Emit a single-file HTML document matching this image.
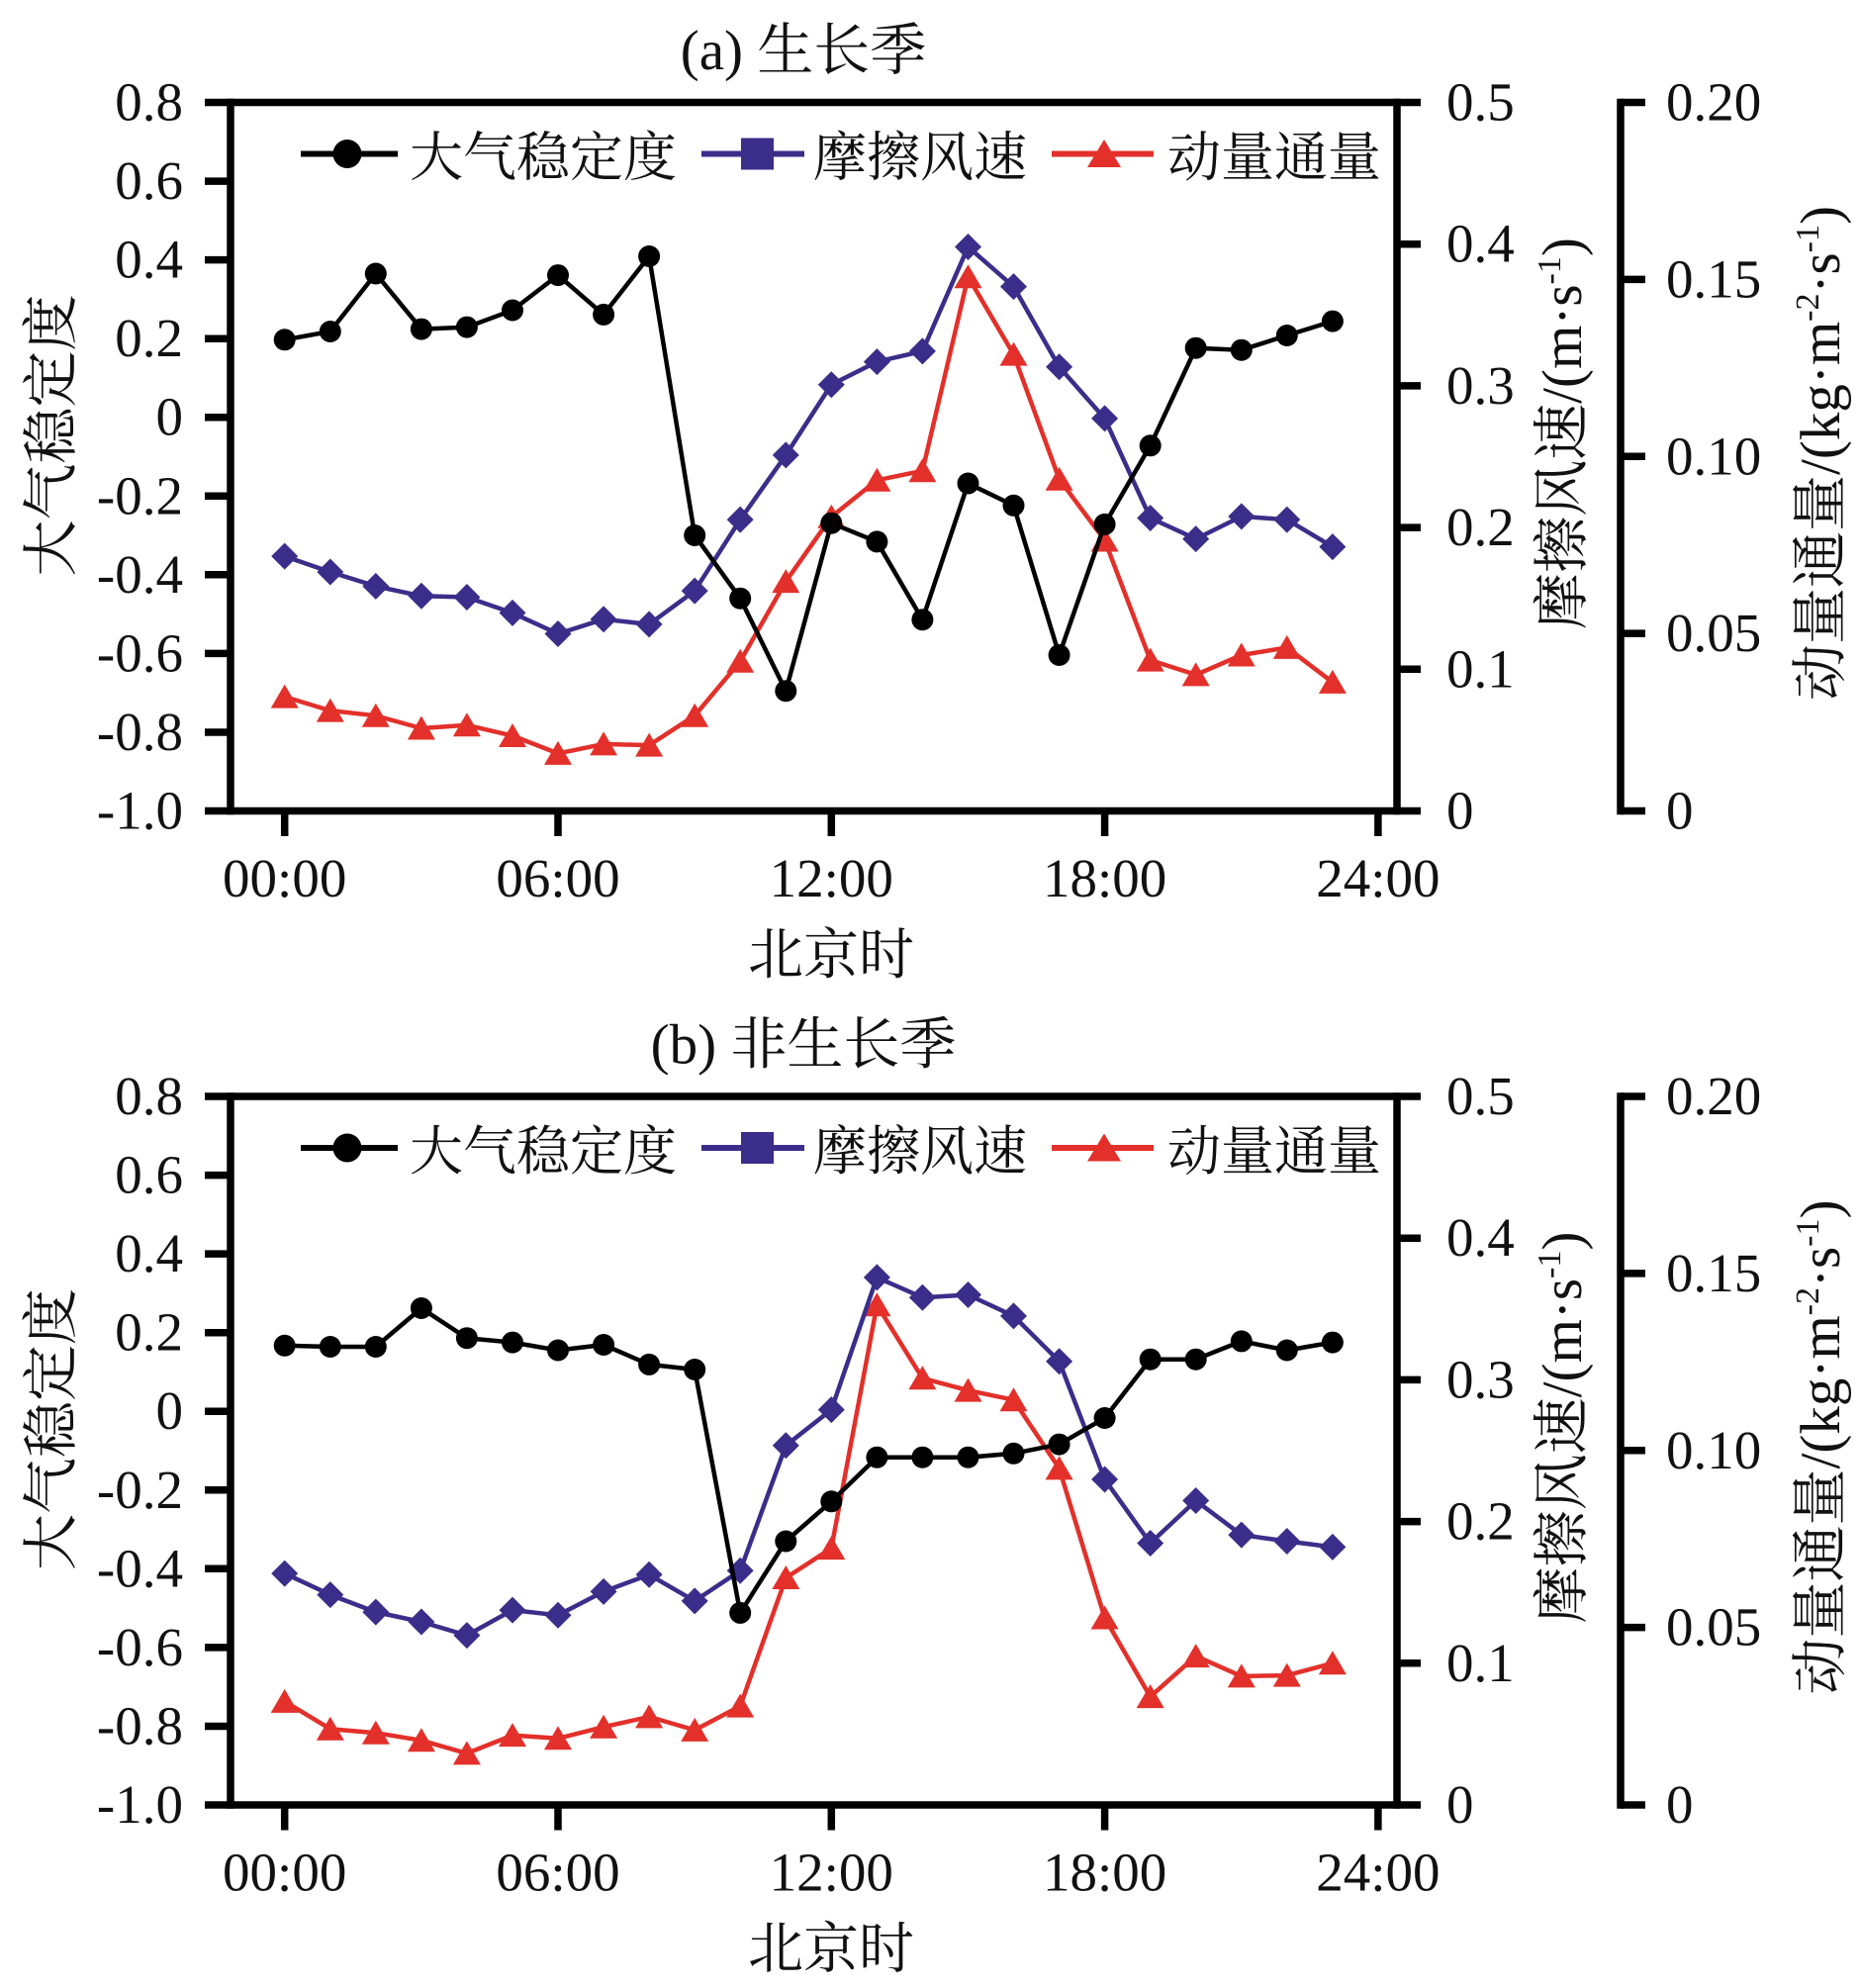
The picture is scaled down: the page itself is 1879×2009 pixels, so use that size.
<!DOCTYPE html>
<html>
<head>
<meta charset="utf-8">
<style>
html,body{margin:0;padding:0;background:#fff;}
svg{display:block;}
text{font-family:"Liberation Serif","Noto Serif CJK SC",serif;fill:#111;}
</style>
</head>
<body>
<svg width="1879" height="2009" viewBox="0 0 1879 2009" xmlns="http://www.w3.org/2000/svg">
<defs>
  <marker id="mc" markerWidth="30" markerHeight="30" refX="15" refY="15" markerUnits="userSpaceOnUse">
    <circle cx="15" cy="15" r="11" fill="#000"/>
  </marker>
  <marker id="md" markerWidth="32" markerHeight="32" refX="16" refY="16" markerUnits="userSpaceOnUse">
    <path d="M16,2.5 L29.5,16 L16,29.5 L2.5,16 Z" fill="#3a2e8a"/>
  </marker>
  <marker id="mt" markerWidth="32" markerHeight="32" refX="16" refY="16" markerUnits="userSpaceOnUse">
    <path d="M16,3.5 L30,27.5 L2,27.5 Z" fill="#e3302a"/>
  </marker>
</defs>

<rect x="0" y="0" width="1879" height="2009" fill="#fff"/>

<!-- ================= PANEL A ================= -->
<g id="panelA">
  <text x="812" y="70" font-size="57" text-anchor="middle">(a) 生长季</text>

  <!-- spines -->
  <g stroke="#000" stroke-width="7.5" fill="none">
    <line x1="207" y1="103.5" x2="1436" y2="103.5"/>
    <line x1="207" y1="819.5" x2="1436" y2="819.5"/>
    <line x1="233" y1="99.8" x2="233" y2="823.2"/>
    <line x1="1412" y1="99.8" x2="1412" y2="823.2"/>
    <!-- left ticks -->
    <line x1="207" y1="183.1" x2="233" y2="183.1"/>
    <line x1="207" y1="262.6" x2="233" y2="262.6"/>
    <line x1="207" y1="342.2" x2="233" y2="342.2"/>
    <line x1="207" y1="421.7" x2="233" y2="421.7"/>
    <line x1="207" y1="501.3" x2="233" y2="501.3"/>
    <line x1="207" y1="580.8" x2="233" y2="580.8"/>
    <line x1="207" y1="660.4" x2="233" y2="660.4"/>
    <line x1="207" y1="740.0" x2="233" y2="740.0"/>
    <!-- right ticks -->
    <line x1="1412" y1="246.7" x2="1436" y2="246.7"/>
    <line x1="1412" y1="389.9" x2="1436" y2="389.9"/>
    <line x1="1412" y1="533.1" x2="1436" y2="533.1"/>
    <line x1="1412" y1="676.3" x2="1436" y2="676.3"/>
    <!-- bottom ticks -->
    <line x1="287.7" y1="819.5" x2="287.7" y2="845"/>
    <line x1="564.0" y1="819.5" x2="564.0" y2="845"/>
    <line x1="840.3" y1="819.5" x2="840.3" y2="845"/>
    <line x1="1116.6" y1="819.5" x2="1116.6" y2="845"/>
    <line x1="1392.9" y1="819.5" x2="1392.9" y2="845"/>
    <!-- third axis -->
    <line x1="1638" y1="99.8" x2="1638" y2="823.2"/>
    <line x1="1638" y1="103.5" x2="1663" y2="103.5"/>
    <line x1="1638" y1="282.4" x2="1663" y2="282.4"/>
    <line x1="1638" y1="461.3" x2="1663" y2="461.3"/>
    <line x1="1638" y1="640.1" x2="1663" y2="640.1"/>
    <line x1="1638" y1="819.5" x2="1663" y2="819.5"/>
  </g>

  <!-- left tick labels -->
  <g font-size="55" text-anchor="end">
    <text x="185" y="121.5">0.8</text>
    <text x="185" y="201.1">0.6</text>
    <text x="185" y="280.6">0.4</text>
    <text x="185" y="360.2">0.2</text>
    <text x="185" y="439.7">0</text>
    <text x="185" y="519.3">-0.2</text>
    <text x="185" y="598.8">-0.4</text>
    <text x="185" y="678.4">-0.6</text>
    <text x="185" y="758.0">-0.8</text>
    <text x="185" y="837.5">-1.0</text>
  </g>
  <!-- right tick labels -->
  <g font-size="55" text-anchor="start">
    <text x="1462" y="121.5">0.5</text>
    <text x="1462" y="264.7">0.4</text>
    <text x="1462" y="407.9">0.3</text>
    <text x="1462" y="551.1">0.2</text>
    <text x="1462" y="694.3">0.1</text>
    <text x="1462" y="837.5">0</text>
    <text x="1684" y="121.5">0.20</text>
    <text x="1684" y="300.4">0.15</text>
    <text x="1684" y="479.3">0.10</text>
    <text x="1684" y="658.1">0.05</text>
    <text x="1684" y="837.5">0</text>
  </g>
  <!-- x tick labels -->
  <g font-size="55" text-anchor="middle">
    <text x="287.7" y="906">00:00</text>
    <text x="564.0" y="906">06:00</text>
    <text x="840.3" y="906">12:00</text>
    <text x="1116.6" y="906">18:00</text>
    <text x="1392.9" y="906">24:00</text>
  </g>
  <text x="840" y="984" font-size="56" text-anchor="middle">北京时</text>

  <text transform="translate(50,440) rotate(-90)" y="21" font-size="57" text-anchor="middle">大气稳定度</text>
  <text transform="translate(1577,438) rotate(-90)" y="21" font-size="57" text-anchor="middle">摩擦风速/(m·s<tspan font-size="34" dy="-21">-1</tspan><tspan dy="21">)</tspan></text>
  <text transform="translate(1838,458) rotate(-90)" y="21" font-size="57" text-anchor="middle">动量通量/(kg·m<tspan font-size="34" dy="-21">-2</tspan><tspan dy="21">·s</tspan><tspan font-size="34" dy="-21">-1</tspan><tspan dy="21">)</tspan></text>

  <!-- legend -->
  <line x1="304" y1="155.5" x2="402" y2="155.5" stroke="#000" stroke-width="6"/>
  <circle cx="351" cy="155.5" r="14.5" fill="#000"/>
  <text x="414" y="177.5" font-size="54">大气稳定度</text>
  <line x1="709" y1="155.5" x2="813" y2="155.5" stroke="#3a2e8a" stroke-width="6"/>
  <rect x="749" y="139.5" width="33" height="32" fill="#3a2e8a"/>
  <text x="822" y="177.5" font-size="54">摩擦风速</text>
  <line x1="1063" y1="155.5" x2="1166" y2="155.5" stroke="#e3302a" stroke-width="6"/>
  <path d="M1116,141 L1133,169 L1099,169 Z" fill="#e3302a"/>
  <text x="1180" y="177.5" font-size="54">动量通量</text>

  <!-- series -->
  <polyline fill="none" stroke="#e3302a" stroke-width="4.5" stroke-linejoin="round" marker-start="url(#mt)" marker-mid="url(#mt)" marker-end="url(#mt)"
    points="287.7,704.1 333.8,718.1 379.8,723.2 425.9,736.0 471.9,732.8 518.0,743.5 564.0,761.4 610.1,751.9 656.1,753.1 702.2,723.2 748.2,668.3 794.3,587.6 840.3,522.3 886.4,485.3 932.4,475.8 978.5,279.7 1024.5,358.1 1070.6,484.2 1116.6,546.0 1162.7,667.1 1208.7,681.9 1254.8,662.0 1300.8,654.4 1346.9,689.4"/>
  <polyline fill="none" stroke="#3a2e8a" stroke-width="4.5" stroke-linejoin="round" marker-start="url(#md)" marker-mid="url(#md)" marker-end="url(#md)"
    points="287.7,562.1 333.8,578.0 379.8,592.4 425.9,602.3 471.9,603.5 518.0,619.4 564.0,640.5 610.1,625.8 656.1,630.9 702.2,597.1 748.2,525.1 794.3,459.9 840.3,388.7 886.4,365.6 932.4,354.9 978.5,249.5 1024.5,289.6 1070.6,370.8 1116.6,422.9 1162.7,523.5 1208.7,544.6 1254.8,521.9 1300.8,525.1 1346.9,552.6"/>
  <polyline fill="none" stroke="#000" stroke-width="4.5" stroke-linejoin="round" marker-start="url(#mc)" marker-mid="url(#mc)" marker-end="url(#mc)"
    points="287.7,343.3 333.8,335.0 379.8,276.5 425.9,332.6 471.9,330.6 518.0,313.5 564.0,278.1 610.1,317.9 656.1,259.0 702.2,541.0 748.2,604.7 794.3,698.2 840.3,528.7 886.4,547.4 932.4,626.2 978.5,488.5 1024.5,510.8 1070.6,662.0 1116.6,529.9 1162.7,450.3 1208.7,351.7 1254.8,353.7 1300.8,339.0 1346.9,324.6"/>
</g>

<!-- ================= PANEL B ================= -->
<g id="panelB">
  <text x="812" y="1074.5" font-size="57" text-anchor="middle">(b) 非生长季</text>

  <g stroke="#000" stroke-width="7.5" fill="none">
    <line x1="207" y1="1108" x2="1436" y2="1108"/>
    <line x1="207" y1="1824" x2="1436" y2="1824"/>
    <line x1="233" y1="1104.3" x2="233" y2="1827.7"/>
    <line x1="1412" y1="1104.3" x2="1412" y2="1827.7"/>
    <line x1="207" y1="1187.6" x2="233" y2="1187.6"/>
    <line x1="207" y1="1267.1" x2="233" y2="1267.1"/>
    <line x1="207" y1="1346.7" x2="233" y2="1346.7"/>
    <line x1="207" y1="1426.2" x2="233" y2="1426.2"/>
    <line x1="207" y1="1505.8" x2="233" y2="1505.8"/>
    <line x1="207" y1="1585.3" x2="233" y2="1585.3"/>
    <line x1="207" y1="1664.9" x2="233" y2="1664.9"/>
    <line x1="207" y1="1744.5" x2="233" y2="1744.5"/>
    <line x1="1412" y1="1251.2" x2="1436" y2="1251.2"/>
    <line x1="1412" y1="1394.4" x2="1436" y2="1394.4"/>
    <line x1="1412" y1="1537.6" x2="1436" y2="1537.6"/>
    <line x1="1412" y1="1680.8" x2="1436" y2="1680.8"/>
    <line x1="287.7" y1="1824" x2="287.7" y2="1849.5"/>
    <line x1="564.0" y1="1824" x2="564.0" y2="1849.5"/>
    <line x1="840.3" y1="1824" x2="840.3" y2="1849.5"/>
    <line x1="1116.6" y1="1824" x2="1116.6" y2="1849.5"/>
    <line x1="1392.9" y1="1824" x2="1392.9" y2="1849.5"/>
    <line x1="1638" y1="1104.3" x2="1638" y2="1827.7"/>
    <line x1="1638" y1="1108" x2="1663" y2="1108"/>
    <line x1="1638" y1="1286.9" x2="1663" y2="1286.9"/>
    <line x1="1638" y1="1465.8" x2="1663" y2="1465.8"/>
    <line x1="1638" y1="1644.6" x2="1663" y2="1644.6"/>
    <line x1="1638" y1="1824" x2="1663" y2="1824"/>
  </g>

  <g font-size="55" text-anchor="end">
    <text x="185" y="1126">0.8</text>
    <text x="185" y="1205.6">0.6</text>
    <text x="185" y="1285.1">0.4</text>
    <text x="185" y="1364.7">0.2</text>
    <text x="185" y="1444.2">0</text>
    <text x="185" y="1523.8">-0.2</text>
    <text x="185" y="1603.3">-0.4</text>
    <text x="185" y="1682.9">-0.6</text>
    <text x="185" y="1762.5">-0.8</text>
    <text x="185" y="1842">-1.0</text>
  </g>
  <g font-size="55" text-anchor="start">
    <text x="1462" y="1126">0.5</text>
    <text x="1462" y="1269.2">0.4</text>
    <text x="1462" y="1412.4">0.3</text>
    <text x="1462" y="1555.6">0.2</text>
    <text x="1462" y="1698.8">0.1</text>
    <text x="1462" y="1842">0</text>
    <text x="1684" y="1126">0.20</text>
    <text x="1684" y="1304.9">0.15</text>
    <text x="1684" y="1483.8">0.10</text>
    <text x="1684" y="1662.6">0.05</text>
    <text x="1684" y="1842">0</text>
  </g>
  <g font-size="55" text-anchor="middle">
    <text x="287.7" y="1910.5">00:00</text>
    <text x="564.0" y="1910.5">06:00</text>
    <text x="840.3" y="1910.5">12:00</text>
    <text x="1116.6" y="1910.5">18:00</text>
    <text x="1392.9" y="1910.5">24:00</text>
  </g>
  <text x="840" y="1988.5" font-size="56" text-anchor="middle">北京时</text>

  <text transform="translate(50,1444.5) rotate(-90)" y="21" font-size="57" text-anchor="middle">大气稳定度</text>
  <text transform="translate(1577,1442.5) rotate(-90)" y="21" font-size="57" text-anchor="middle">摩擦风速/(m·s<tspan font-size="34" dy="-21">-1</tspan><tspan dy="21">)</tspan></text>
  <text transform="translate(1838,1462.5) rotate(-90)" y="21" font-size="57" text-anchor="middle">动量通量/(kg·m<tspan font-size="34" dy="-21">-2</tspan><tspan dy="21">·s</tspan><tspan font-size="34" dy="-21">-1</tspan><tspan dy="21">)</tspan></text>

  <line x1="304" y1="1160" x2="402" y2="1160" stroke="#000" stroke-width="6"/>
  <circle cx="351" cy="1160" r="14.5" fill="#000"/>
  <text x="414" y="1182" font-size="54">大气稳定度</text>
  <line x1="709" y1="1160" x2="813" y2="1160" stroke="#3a2e8a" stroke-width="6"/>
  <rect x="749" y="1144" width="33" height="32" fill="#3a2e8a"/>
  <text x="822" y="1182" font-size="54">摩擦风速</text>
  <line x1="1063" y1="1160" x2="1166" y2="1160" stroke="#e3302a" stroke-width="6"/>
  <path d="M1116,1145.5 L1133,1173.5 L1099,1173.5 Z" fill="#e3302a"/>
  <text x="1180" y="1182" font-size="54">动量通量</text>

  <polyline fill="none" stroke="#e3302a" stroke-width="4.5" stroke-linejoin="round" marker-start="url(#mt)" marker-mid="url(#mt)" marker-end="url(#mt)"
    points="287.7,1719.4 333.8,1747.2 379.8,1751.2 425.9,1758.8 471.9,1771.9 518.0,1753.6 564.0,1756.8 610.1,1745.2 656.1,1734.9 702.2,1748.4 748.2,1724.1 794.3,1594.5 840.3,1564.6 886.4,1318.8 932.4,1392.8 978.5,1405.1 1024.5,1414.7 1070.6,1483.9 1116.6,1635.0 1162.7,1714.6 1208.7,1673.6 1254.8,1693.9 1300.8,1693.1 1346.9,1680.8"/>
  <polyline fill="none" stroke="#3a2e8a" stroke-width="4.5" stroke-linejoin="round" marker-start="url(#md)" marker-mid="url(#md)" marker-end="url(#md)"
    points="287.7,1590.1 333.8,1611.6 379.8,1629.1 425.9,1639.0 471.9,1652.6 518.0,1627.1 564.0,1632.3 610.1,1608.4 656.1,1591.3 702.2,1617.9 748.2,1587.3 794.3,1460.8 840.3,1424.6 886.4,1290.9 932.4,1311.2 978.5,1308.5 1024.5,1329.9 1070.6,1375.7 1116.6,1495.0 1162.7,1559.5 1208.7,1516.5 1254.8,1551.1 1300.8,1557.5 1346.9,1563.4"/>
  <polyline fill="none" stroke="#000" stroke-width="4.5" stroke-linejoin="round" marker-start="url(#mc)" marker-mid="url(#mc)" marker-end="url(#mc)"
    points="287.7,1359.8 333.8,1361.0 379.8,1361.0 425.9,1322.0 471.9,1352.2 518.0,1356.6 564.0,1364.5 610.1,1359.0 656.1,1378.9 702.2,1384.0 748.2,1629.9 794.3,1557.5 840.3,1517.3 886.4,1472.7 932.4,1472.7 978.5,1472.7 1024.5,1468.8 1070.6,1459.6 1116.6,1433.0 1162.7,1373.7 1208.7,1373.7 1254.8,1355.4 1300.8,1364.5 1346.9,1356.6"/>
</g>
</svg>
</body>
</html>
